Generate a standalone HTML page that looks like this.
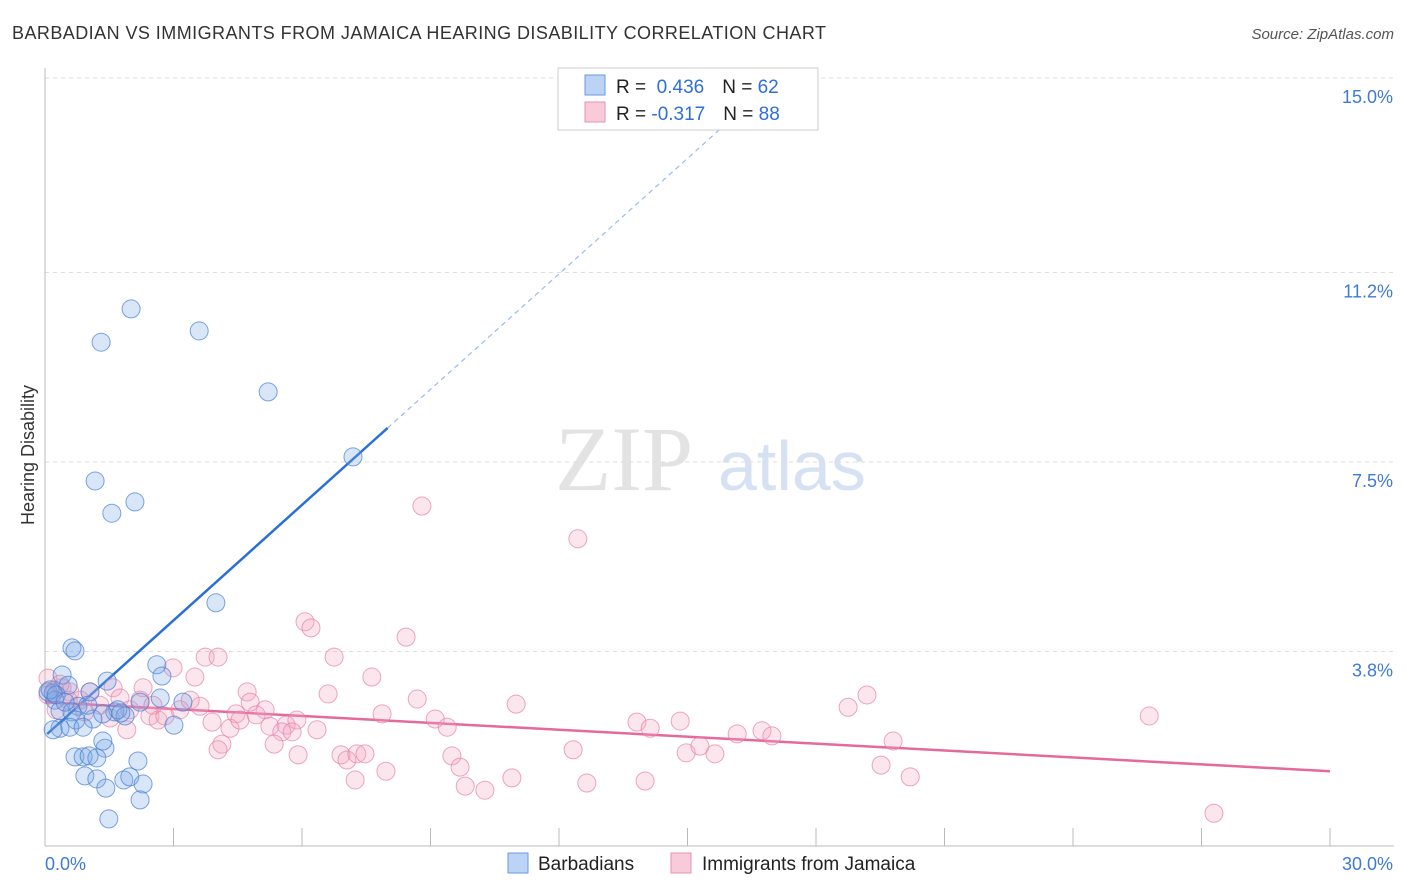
<!DOCTYPE html>
<html><head><meta charset="utf-8"><style>
body{margin:0;background:#fff;font-family:"Liberation Sans",sans-serif}
svg{display:block}
</style></head><body>
<svg id="chart" width="1406" height="892">
<text x="12" y="39" font-size="18" fill="#333" textLength="814" lengthAdjust="spacing">BARBADIAN VS IMMIGRANTS FROM JAMAICA HEARING DISABILITY CORRELATION CHART</text>
<text x="1394" y="39" font-size="15" fill="#555" font-style="italic" text-anchor="end">Source: ZipAtlas.com</text>
<g>
<text x="555" y="490" font-size="92" font-family="Liberation Serif,serif" fill="#e3e3e3">ZIP</text>
<text x="718" y="490" font-size="70" fill="#d6e2f4">atlas</text>
</g>
<g id="grid"></g>
<g id="axes"></g>
<g id="trends"></g>
<g id="pts"></g>
<text transform="translate(34,455) rotate(-90)" font-size="18" fill="#333" text-anchor="middle">Hearing Disability</text>
<g>
<rect x="558" y="68" width="260" height="62" fill="#fff" stroke="#ccc"/>
<rect x="585" y="75" width="20" height="20" fill="#bcd3f5" stroke="#6a9ae0"/>
<rect x="585" y="102" width="20" height="20" fill="#f9cad9" stroke="#e892b0"/>
<text x="616" y="93" font-size="19" fill="#222">R = <tspan fill="#2e6fd8">&#160;0.436</tspan><tspan dx="18">N = </tspan><tspan fill="#2e6fd8">62</tspan></text>
<text x="616" y="120" font-size="19" fill="#222">R = <tspan fill="#2e6fd8">-0.317</tspan><tspan dx="18">N = </tspan><tspan fill="#2e6fd8">88</tspan></text>
</g>
<g>
<rect x="508" y="853" width="20" height="20" fill="#bcd3f5" stroke="#6a9ae0"/>
<text x="538" y="870" font-size="19" fill="#222">Barbadians</text>
<rect x="671" y="853" width="20" height="20" fill="#f9cad9" stroke="#e892b0"/>
<text x="702" y="870" font-size="19" fill="#222">Immigrants from Jamaica</text>
</g>
</svg>
<script>
const yTicks=[15.0,11.2,7.5,3.8];
const yTickLabels=["15.0%","11.2%","7.5%","3.8%"];
const xTickCount=10;
const xMax=30;
const blueX=[2.01,1.31,3.60,5.21,7.19,1.17,2.10,1.56,3.99,0.63,0.70,0.40,2.61,2.73,1.45,0.54,0.07,0.19,1.05,3.22,2.22,2.69,0.23,0.77,0.35,0.63,1.12,1.63,1.87,1.70,0.72,1.35,0.35,0.58,0.89,3.01,0.19,1.40,1.35,2.17,0.70,0.89,1.03,1.21,0.93,1.21,1.84,1.98,2.29,1.42,2.22,1.49,0.12,0.26,0.47,1.00,1.77];
const blueY=[10.49,9.84,10.06,8.87,7.60,7.13,6.72,6.50,4.75,3.87,3.81,3.34,3.54,3.32,3.22,3.14,3.01,2.99,3.01,2.81,2.81,2.89,2.85,2.73,2.64,2.62,2.48,2.62,2.54,2.66,2.46,2.58,2.30,2.32,2.32,2.36,2.27,1.91,2.05,1.66,1.74,1.74,1.76,1.72,1.37,1.31,1.29,1.35,1.21,1.13,0.90,0.53,3.05,2.95,2.81,2.75,2.60];
const pinkX=[8.80,12.44,6.07,6.21,8.43,6.75,3.74,4.04,7.63,3.50,2.99,2.29,1.59,1.05,0.40,0.07,0.23,0.58,0.82,1.75,1.98,2.45,2.64,2.80,3.15,3.62,4.72,4.79,5.14,3.90,4.46,4.32,5.25,5.63,5.88,5.53,5.77,6.35,6.61,8.69,11.00,7.87,9.11,9.39,5.35,4.13,4.04,5.91,6.91,7.05,7.28,7.47,9.50,9.69,7.96,7.24,9.81,10.27,10.90,12.65,14.01,12.33,13.82,14.13,14.83,14.97,15.29,15.64,16.16,16.74,16.97,18.75,19.19,19.80,19.52,20.20,25.78,27.29,0.26,0.54,1.28,0.07,0.35,1.52,1.91,0.93,2.22,3.39,2.52,4.55,4.93];
const pinkY=[6.64,6.00,4.38,4.26,4.08,3.69,3.69,3.69,3.30,3.30,3.48,3.09,3.09,3.01,3.09,3.28,3.05,3.01,2.85,2.89,2.66,2.54,2.46,2.54,2.66,2.73,3.01,2.81,2.66,2.42,2.58,2.30,2.34,2.36,2.46,2.23,2.23,2.27,2.97,2.87,2.77,2.58,2.48,2.32,1.99,1.99,1.88,1.78,1.78,1.68,1.80,1.80,1.76,1.54,1.46,1.29,1.17,1.09,1.33,1.23,1.27,1.88,2.42,2.30,2.44,1.82,1.95,1.80,2.19,2.25,2.15,2.71,2.95,2.05,1.58,1.35,2.54,0.64,2.66,2.85,2.75,2.95,3.16,2.50,2.27,2.62,2.85,2.85,2.75,2.46,2.56];
const blueTrend=[2.15,0.752];
const pinkTrend=[2.81,-0.045];
const NS='http://www.w3.org/2000/svg';
const X0=45,X1=1330,Y0=846,PXY=51.2;
const sx=v=>X0+(X1-X0)*v/xMax;
const sy=v=>Y0-v*PXY;
function mk(tag,attrs,parent){const e=document.createElementNS(NS,tag);for(const k in attrs)e.setAttribute(k,attrs[k]);parent.appendChild(e);return e;}
const grid=document.getElementById('grid'),axes=document.getElementById('axes'),tr=document.getElementById('trends'),pts=document.getElementById('pts');
yTicks.forEach((t,i)=>{
 const l=mk('line',{x1:X0,x2:1394,y1:sy(t),y2:sy(t),stroke:'#ddd','stroke-dasharray':'4,4'},grid);
 
 
 const tx=mk('text',{x:1393,y:sy(t)+25,'font-size':18,fill:'#3f7ad6','text-anchor':'end'},axes);
 tx.textContent=yTickLabels[i];
 
 
});
const yl=mk('line',{x1:X0,x2:X0,y1:68,y2:Y0,stroke:'#bbb'},axes);


const xl=mk('line',{x1:X0,x2:1394,y1:Y0,y2:Y0,stroke:'#bbb'},axes);


for(let i=1;i<=xTickCount;i++){
 const v=xMax*i/xTickCount;
 const t=mk('line',{x1:sx(v),x2:sx(v),y1:Y0-18,y2:Y0,stroke:'#bbb'},axes);
 
 
}
const xa=mk('text',{x:45,y:870,'font-size':18,fill:'#3f7ad6'},axes);xa.textContent='0.0%';


const xb=mk('text',{x:1393,y:870,'font-size':18,fill:'#3f7ad6','text-anchor':'end'},axes);xb.textContent='30.0%';


function dot(x,y,fill,stroke,name){
 const c=mk('circle',{cx:sx(x),cy:sy(y),r:9,fill:fill,stroke:stroke,'stroke-width':1},pts);
 
 
}
pinkX.forEach((x,i)=>dot(x,pinkY[i],'rgba(244,165,195,0.28)','rgba(228,130,165,0.7)','jamaica-point'));
blueX.forEach((x,i)=>dot(x,blueY[i],'rgba(120,165,230,0.28)','rgba(70,125,210,0.7)','barbadian-point'));
const bx1=0.05,bx2=8.0,bx3=16.3;
const bl=mk('line',{x1:sx(bx1),y1:sy(blueTrend[0]+blueTrend[1]*bx1),x2:sx(bx2),y2:sy(blueTrend[0]+blueTrend[1]*bx2),stroke:'#2a6fd6','stroke-width':2.5},tr);


const bd=mk('line',{x1:sx(bx2),y1:sy(blueTrend[0]+blueTrend[1]*bx2),x2:sx(bx3),y2:sy(blueTrend[0]+blueTrend[1]*bx3),stroke:'#9bbbe6','stroke-width':1.2,'stroke-dasharray':'5,4'},tr);


const pl=mk('line',{x1:sx(0),y1:sy(pinkTrend[0]),x2:sx(30),y2:sy(pinkTrend[0]+pinkTrend[1]*30),stroke:'#e5699a','stroke-width':2.5},tr);


</script>
</body></html>
